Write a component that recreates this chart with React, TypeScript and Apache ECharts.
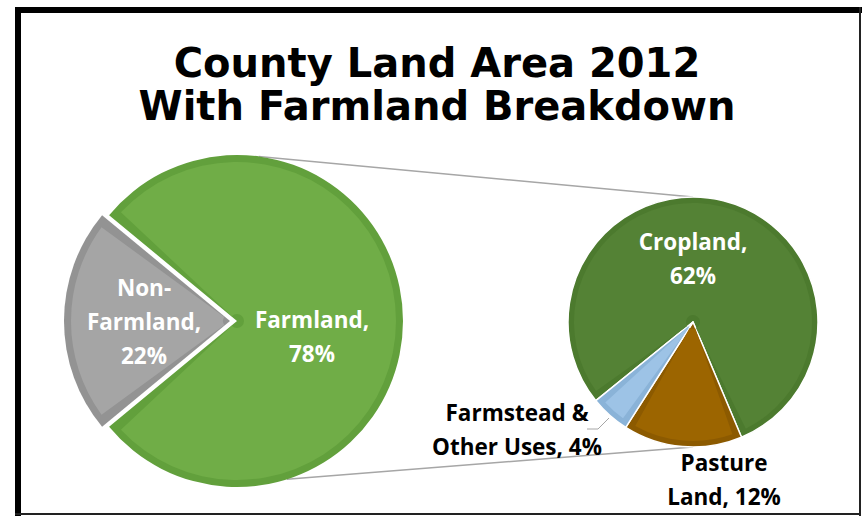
import React, { useEffect, useRef } from 'react';
import * as echarts from 'echarts';

// ---- data ----
const titleLines = ['County Land Area 2012', 'With Farmland Breakdown'];
const mainCategories = ['Farmland', 'Non-Farmland'];
const mainValues = [78, 22];
const mainLabels = ['Farmland,\n78%', 'Non-\nFarmland,\n22%'];
const farmCategories = ['Cropland', 'Pasture Land', 'Farmstead & Other Uses'];
const farmValues = [62, 12, 4];
const farmLabels = ['Cropland,\n62%', 'Pasture\nLand, 12%', 'Farmstead &\nOther Uses, 4%'];

// ---- styles / layout ----
const mainFill = ['#70AD47', '#A5A5A5'];
const mainRing = ['#62A03C', '#939393'];
const farmFill = ['#548235', '#9C6500', '#9DC3E6'];
const farmRing = ['#4C7A2E', '#8C5A00', '#8AB3D8'];
const mainCenter = [237, 321];
const mainR = 166;
const farmCenter = [693, 322];
const farmR = 125;
const mainLabelPos = [[312, 336], [127, 324]];
const farmLabelPos = [[693, 258], [724, 479], [517, 429]];
const farmsteadLeader = [[587, 429], [598, 429], [609, 418]];
const labelFont = { fontFamily: 'Open Sans', fontWeight: 'bold' as const, fontSize: 22.5, lineHeight: 34 };

const rad = (d: number) => (d * Math.PI) / 180;

export default function App() {
  const ref = useRef<HTMLDivElement>(null);
  useEffect(() => {
    if (!ref.current) return;
    const chart = echarts.init(ref.current, undefined, { renderer: 'svg' });

    const mainStart = 180 + (mainValues[1] / 2 / 100) * 360; // Non-Farmland centred on the left
    const mainStartAngle = mainStart - (mainValues[1] / 100) * 360; // Farmland first
    const farmStartAngle = 219;

    const topA = rad(-82.5);
    const botA = rad(72.5);
    const connTop = [mainCenter[0] + mainR * Math.cos(topA), mainCenter[1] + mainR * Math.sin(topA)];
    const connBot = [mainCenter[0] + mainR * Math.cos(botA), mainCenter[1] + mainR * Math.sin(botA)];

    const mkData = (cats: string[], vals: number[], fills: string[], selectedIdx: number) =>
      cats.map((c, i) => ({
        name: c,
        value: vals[i],
        selected: i === selectedIdx,
        itemStyle: { color: fills[i] },
        select: { itemStyle: { color: fills[i] } },
      }));

    chart.setOption({
      animation: false,
      backgroundColor: '#ffffff',
      title: {
        text: titleLines.join('\n'),
        left: 437,
        textAlign: 'center',
        top: 41,
        padding: 0,
        textStyle: {
          fontFamily: 'DejaVu Sans',
          fontWeight: 'bold',
          fontSize: 40,
          lineHeight: 43,
          color: '#000000',
        },
      },
      graphic: [
        { type: 'rect', z: 10, shape: { x: 15, y: 7, width: 6, height: 509 }, style: { fill: '#000' } },
        { type: 'rect', z: 10, shape: { x: 15, y: 7, width: 847, height: 6 }, style: { fill: '#000' } },
        { type: 'rect', z: 10, shape: { x: 859, y: 7, width: 2, height: 509 }, style: { fill: '#222' } },
        { type: 'rect', z: 10, shape: { x: 15, y: 513, width: 846, height: 2 }, style: { fill: '#222' } },
        {
          type: 'line', z: 0,
          shape: { x1: connTop[0], y1: connTop[1], x2: farmCenter[0], y2: farmCenter[1] - farmR },
          style: { stroke: '#A6A6A6', lineWidth: 1.5 },
        },
        {
          type: 'line', z: 0,
          shape: { x1: connBot[0], y1: connBot[1], x2: farmCenter[0], y2: farmCenter[1] + farmR },
          style: { stroke: '#A6A6A6', lineWidth: 1.5 },
        },
      ],
      series: [
        {
          type: 'pie',
          silent: true,
          z: 3,
          center: mainCenter,
          radius: [0, mainR],
          startAngle: mainStartAngle,
          clockwise: true,
          selectedMode: 'multiple',
          selectedOffset: 7,
          label: { show: false },
          labelLine: { show: false },
          emphasis: { disabled: true },
          data: mkData(mainCategories, mainValues, mainRing, 1),
        },
        {
          type: 'pie',
          silent: true,
          z: 4,
          center: mainCenter,
          radius: [7, mainR - 7],
          padAngle: 7,
          startAngle: mainStartAngle,
          clockwise: true,
          selectedMode: 'multiple',
          selectedOffset: 7,
          emphasis: { disabled: true },
          label: {
            show: true,
            position: 'inside',
            color: '#ffffff',
            ...labelFont,
            formatter: (p: any) => mainLabels[p.dataIndex],
          },
          labelLine: { show: false },
          labelLayout: (p: any) => ({
            x: mainLabelPos[p.dataIndex][0],
            y: mainLabelPos[p.dataIndex][1],
            align: 'center',
            verticalAlign: 'middle',
          }),
          data: mkData(mainCategories, mainValues, mainFill, 1),
        },
        {
          type: 'pie',
          silent: true,
          z: 3,
          center: farmCenter,
          radius: [0, farmR],
          startAngle: farmStartAngle,
          clockwise: true,
          label: { show: false },
          labelLine: { show: false },
          emphasis: { disabled: true },
          itemStyle: { borderColor: '#ffffff', borderWidth: 1.5 },
          data: mkData(farmCategories, farmValues, farmRing, -1),
        },
        {
          type: 'pie',
          silent: true,
          z: 4,
          center: farmCenter,
          radius: [7, farmR - 6],
          padAngle: 7,
          startAngle: farmStartAngle,
          clockwise: true,
          emphasis: { disabled: true },
          label: {
            show: true,
            position: 'inside',
            color: '#ffffff',
            ...labelFont,
            formatter: (p: any) => farmLabels[p.dataIndex],
          },
          labelLine: { show: false },
          labelLayout: (p: any) => {
            const o: any = {
              x: farmLabelPos[p.dataIndex][0],
              y: farmLabelPos[p.dataIndex][1],
              align: 'center',
              verticalAlign: 'middle',
            };
            if (p.dataIndex === 2) o.labelLinePoints = farmsteadLeader;
            return o;
          },
          data: farmCategories.map((c, i) => ({
            name: c,
            value: farmValues[i],
            itemStyle: { color: farmFill[i] },
            label: i === 0 ? {} : { position: 'outside', color: '#000000' },
            labelLine:
              i === 2
                ? { show: true, length: 10, length2: 10, lineStyle: { color: '#A6A6A6', width: 1 } }
                : { show: false },
          })),
        },
      ],
    });
    return () => chart.dispose();
  }, []);
  return (
    <div
      ref={ref}
      style={{ position: 'fixed', left: 0, top: 0, width: 862, height: 516 }}
    />
  );
}
